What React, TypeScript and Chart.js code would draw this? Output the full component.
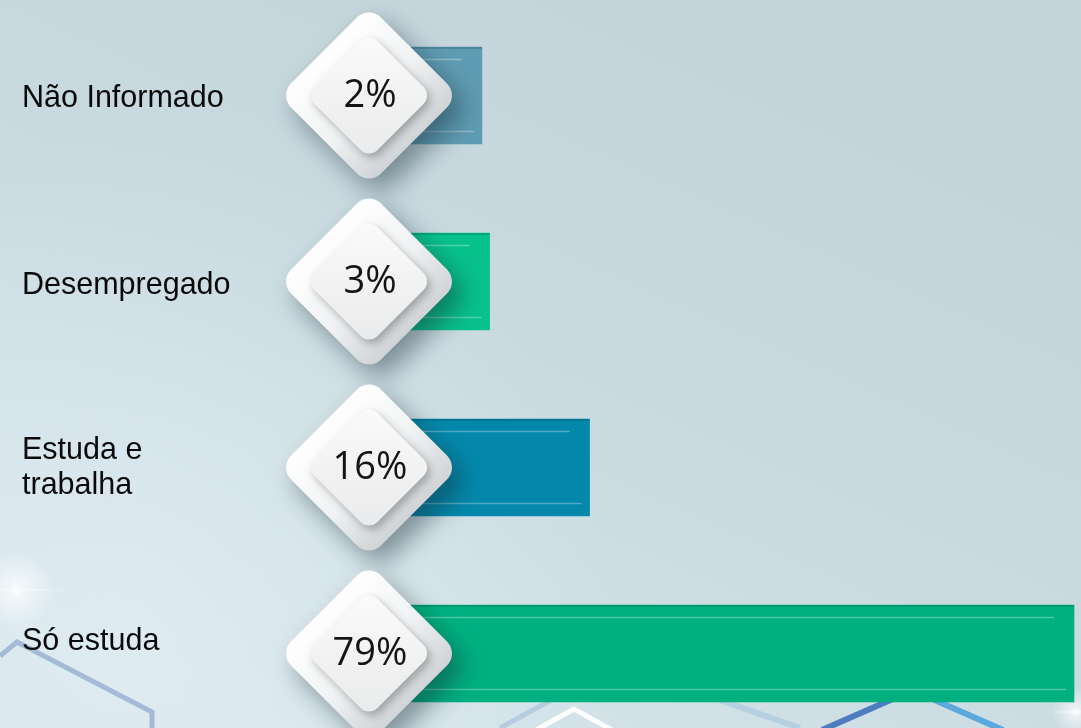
import React, { useEffect, useRef } from "react";
import { Chart, registerables } from "chart.js";

Chart.register(...registerables);

// ---- data ----
const categories: (string | string[])[] = [
  "Não Informado",
  "Desempregado",
  ["Estuda e", "trabalha"],
  "Só estuda",
];
const values: number[] = [2, 3, 16, 79];
const barColors: string[] = ["#5e9cb3", "#07c18b", "#0388ab", "#00b081"];

// ---- layout constants ----
const W = 1081;
const H = 728;
const AXIS_MIN = -8;
const AXIS_MAX = 79;
const BADGE_X = 369;
const LABEL_X = 22;
const LABEL_NUDGE = [0.5, 1.5, -2.5, -14.5];
const LABEL_FONT = '30.5px "Liberation Sans", Arial, sans-serif';
const LABEL_LINE = 35;
const BADGE_FONT = '38px "Open Sans", sans-serif';

function roundedDiamond(
  ctx: CanvasRenderingContext2D,
  cx: number,
  cy: number,
  half: number,
  r: number
) {
  const pts = [
    [cx, cy - half],
    [cx + half, cy],
    [cx, cy + half],
    [cx - half, cy],
  ];
  ctx.beginPath();
  ctx.moveTo((pts[3][0] + pts[0][0]) / 2, (pts[3][1] + pts[0][1]) / 2);
  for (let i = 0; i < 4; i++) {
    const p = pts[i];
    const n = pts[(i + 1) % 4];
    ctx.arcTo(p[0], p[1], n[0], n[1], r);
  }
  ctx.closePath();
}

const backgroundPlugin = {
  id: "bgDecor",
  beforeDraw(chart: any) {
    const ctx: CanvasRenderingContext2D = chart.ctx;
    const w = chart.width;
    const h = chart.height;
    ctx.save();
    const g = ctx.createLinearGradient(w * 0.55, 0, w * 0.25, h);
    g.addColorStop(0, "#c3d4db");
    g.addColorStop(0.5, "#c9dae1");
    g.addColorStop(1, "#d7e6ec");
    ctx.fillStyle = g;
    ctx.fillRect(0, 0, w, h);

    // soft light band lower left
    const rg = ctx.createRadialGradient(w * 0.12, h * 0.85, 10, w * 0.12, h * 0.85, w * 0.45);
    rg.addColorStop(0, "rgba(230,242,247,0.5)");
    rg.addColorStop(1, "rgba(230,242,247,0)");
    ctx.fillStyle = rg;
    ctx.fillRect(0, 0, w, h);

    ctx.lineCap = "butt";
    ctx.lineJoin = "miter";
    // hexagon fragments
    ctx.strokeStyle = "rgba(135,160,200,0.65)";
    ctx.lineWidth = 5;
    ctx.beginPath();
    ctx.moveTo(0, 656);
    ctx.lineTo(17, 642);
    ctx.lineTo(152, 712);
    ctx.lineTo(152, h);
    ctx.stroke();

    ctx.strokeStyle = "rgba(150,175,210,0.45)";
    ctx.lineWidth = 5;
    ctx.beginPath();
    ctx.moveTo(500, h);
    ctx.lineTo(570, 690);
    ctx.stroke();

    ctx.strokeStyle = "rgba(255,255,255,0.95)";
    ctx.lineWidth = 5;
    ctx.beginPath();
    ctx.moveTo(536, h + 2);
    ctx.lineTo(574, 709);
    ctx.lineTo(612, h + 2);
    ctx.stroke();

    ctx.strokeStyle = "rgba(160,195,220,0.55)";
    ctx.lineWidth = 6;
    ctx.beginPath();
    ctx.moveTo(720, 700);
    ctx.lineTo(800, h);
    ctx.stroke();

    ctx.strokeStyle = "#4d7dbf";
    ctx.lineWidth = 6;
    ctx.beginPath();
    ctx.moveTo(822, h + 2);
    ctx.lineTo(895, 698);
    ctx.stroke();

    ctx.strokeStyle = "#5aa8dc";
    ctx.lineWidth = 6;
    ctx.beginPath();
    ctx.moveTo(930, 698);
    ctx.lineTo(1003, h + 2);
    ctx.stroke();

    // lens flares
    const flare = (x: number, y: number, r: number) => {
      const fg = ctx.createRadialGradient(x, y, 0, x, y, r);
      fg.addColorStop(0, "rgba(255,255,255,0.95)");
      fg.addColorStop(0.2, "rgba(255,255,255,0.6)");
      fg.addColorStop(1, "rgba(255,255,255,0)");
      ctx.fillStyle = fg;
      ctx.beginPath();
      ctx.arc(x, y, r, 0, Math.PI * 2);
      ctx.fill();
      const sg = ctx.createLinearGradient(x - r * 1.5, y, x + r * 1.5, y);
      sg.addColorStop(0, "rgba(255,255,255,0)");
      sg.addColorStop(0.5, "rgba(255,255,255,0.45)");
      sg.addColorStop(1, "rgba(255,255,255,0)");
      ctx.fillStyle = sg;
      ctx.beginPath();
      ctx.ellipse(x, y, r * 1.5, 1.2, 0, 0, Math.PI * 2);
      ctx.fill();
    };
    flare(16, 590, 38);
    flare(1076, 712, 24);
    ctx.restore();
  },
};

const overlayPlugin = {
  id: "badges",
  afterDatasetsDraw(chart: any) {
    const ctx: CanvasRenderingContext2D = chart.ctx;
    const meta = chart.getDatasetMeta(0);
    const data = chart.data.datasets[0].data as number[];
    ctx.save();

    // bar highlight lines
    meta.data.forEach((el: any) => {
      const p = el.getProps(["x", "y", "base", "height"], true);
      const top = p.y - p.height / 2;
      const bottom = p.y + p.height / 2;
      const left = Math.min(p.base, p.x);
      const right = Math.max(p.base, p.x);
      ctx.fillStyle = "rgba(0,40,40,0.18)";
      ctx.fillRect(left, top, right - left, 2);
      ctx.strokeStyle = "rgba(255,255,255,0.3)";
      ctx.lineWidth = 1.5;
      ctx.beginPath();
      ctx.moveTo(left + 10, top + 12.5);
      ctx.lineTo(right - 20, top + 12.5);
      ctx.moveTo(left + 10, bottom - 12.5);
      ctx.lineTo(right - 8, bottom - 12.5);
      ctx.stroke();
    });

    // diamond badges
    meta.data.forEach((el: any, i: number) => {
      const p = el.getProps(["y"], true);
      const cx = BADGE_X;
      const cy = p.y;
      const oh = 90;
      const ih = 63;

      // outer diamond with drop shadow
      ctx.save();
      ctx.shadowColor = "rgba(20,40,50,0.45)";
      ctx.shadowBlur = 26;
      ctx.shadowOffsetX = 10;
      ctx.shadowOffsetY = 12;
      roundedDiamond(ctx, cx, cy, oh, 17);
      const og = ctx.createLinearGradient(cx - oh / 2, cy - oh / 2, cx + oh / 2, cy + oh / 2);
      og.addColorStop(0, "#ffffff");
      og.addColorStop(0.55, "#f0f2f3");
      og.addColorStop(1, "#d0d4d7");
      ctx.fillStyle = og;
      ctx.fill();
      ctx.restore();

      // inner diamond
      ctx.save();
      ctx.shadowColor = "rgba(0,0,0,0.28)";
      ctx.shadowBlur = 9;
      ctx.shadowOffsetX = 3;
      ctx.shadowOffsetY = 4;
      roundedDiamond(ctx, cx, cy, ih, 12);
      const ig = ctx.createLinearGradient(cx, cy - ih, cx, cy + ih);
      ig.addColorStop(0, "#fbfbfb");
      ig.addColorStop(1, "#e9eaeb");
      ctx.fillStyle = ig;
      ctx.fill();
      ctx.restore();

      // percent text
      ctx.fillStyle = "#141414";
      ctx.font = BADGE_FONT;
      ctx.textAlign = "center";
      ctx.textBaseline = "alphabetic";
      ctx.fillText(`${data[i]}%`, cx + 1, cy + 11.5);
    });

    // category labels
    ctx.fillStyle = "#0a0a0a";
    ctx.font = LABEL_FONT;
    ctx.textAlign = "left";
    ctx.textBaseline = "alphabetic";
    meta.data.forEach((el: any, i: number) => {
      const p = el.getProps(["y"], true);
      const lab = chart.data.labels[i];
      const lines: string[] = Array.isArray(lab) ? lab : [lab];
      const center = p.y + (LABEL_NUDGE[i] || 0);
      lines.forEach((t, j) => {
        const y = center + (j - (lines.length - 1) / 2) * LABEL_LINE + 11;
        ctx.fillText(t, LABEL_X, y);
      });
    });
    ctx.restore();
  },
};

export default function App() {
  const ref = useRef<HTMLCanvasElement | null>(null);

  useEffect(() => {
    if (!ref.current) return;
    const chart = new Chart(ref.current, {
      type: "bar",
      data: {
        labels: categories as any,
        datasets: [
          {
            data: values,
            backgroundColor: barColors,
            borderWidth: 0,
            barThickness: 97,
            base: AXIS_MIN,
            clip: false as any,
          } as any,
        ],
      },
      options: {
        indexAxis: "y",
        animation: false,
        responsive: false,
        maintainAspectRatio: false,
        events: [],
        layout: { padding: { left: 405, right: 7, top: 95.5, bottom: 74.5 } },
        plugins: {
          legend: { display: false },
          tooltip: { enabled: false },
        },
        scales: {
          x: { type: "linear", min: AXIS_MIN, max: AXIS_MAX, display: false },
          y: { type: "category", offset: false, display: false },
        },
      },
      plugins: [backgroundPlugin, overlayPlugin],
    });
    let alive = true;
    if ((document as any).fonts) {
      Promise.all([
        (document as any).fonts.load(BADGE_FONT),
        (document as any).fonts.load(LABEL_FONT),
      ])
        .then(() => {
          if (alive) chart.draw();
        })
        .catch(() => {});
    }
    return () => {
      alive = false;
      chart.destroy();
    };
  }, []);

  return (
    <div style={{ position: "fixed", left: 0, top: 0, width: W, height: H, overflow: "hidden" }}>
      <canvas ref={ref} width={W} height={H} style={{ display: "block" }} />
    </div>
  );
}
